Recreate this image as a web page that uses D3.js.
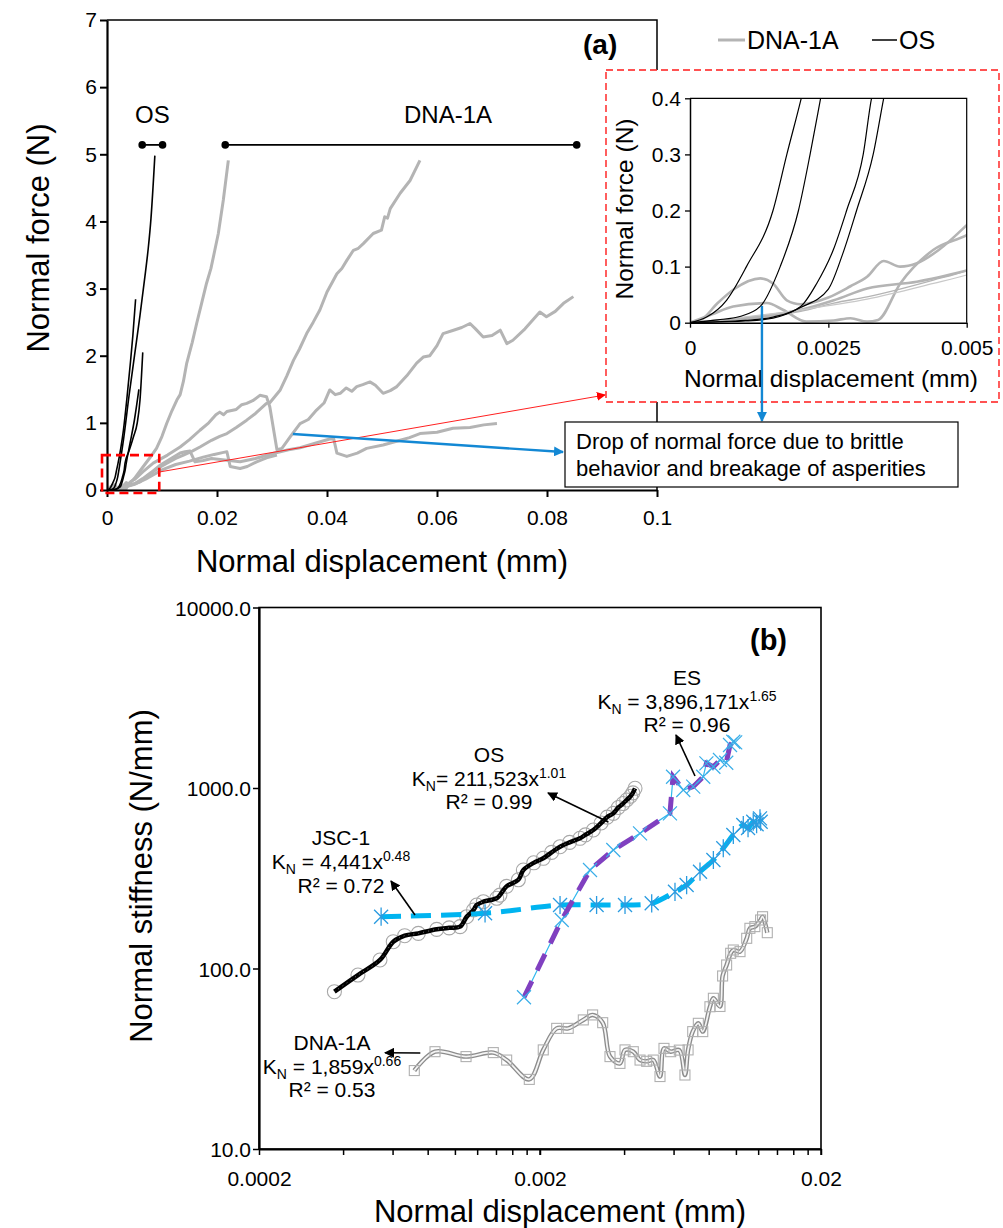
<!DOCTYPE html>
<html><head><meta charset="utf-8">
<script src="https://cdn.jsdelivr.net/npm/d3@7"></script>
<style>
body{margin:0;background:#fff}
svg{display:block}
text{font-family:"Liberation Sans",Arial,sans-serif;fill:#000}
</style>
</head><body>
<svg id="c" width="1003" height="1228"></svg>
<script>
// ---------------- DATA: panel (a) normal force vs displacement ----------------
const osCurve1 = [[0,0],[0.0003,0.01],[0.00066,0.04],[0.00102,0.1],[0.0015,0.2],[0.00175,0.3],[0.00201,0.4],[0.0025,0.62],[0.003,0.9],[0.0036,1.35],[0.0042,1.85],[0.0047,2.3],[0.0052,2.84]];
const osCurve2 = [[0,0],[0.0005,0.005],[0.0009,0.011],[0.00127,0.029],[0.00163,0.1],[0.00196,0.2],[0.00217,0.3],[0.00236,0.4],[0.003,0.75],[0.004,1.4],[0.005,2.0],[0.006,2.6],[0.007,3.25],[0.0075,3.6],[0.008,4.05],[0.0087,4.98]];
const osCurve3 = [[0,0],[0.001,0.004],[0.0015,0.01],[0.002,0.029],[0.00229,0.07],[0.00259,0.13],[0.00283,0.2],[0.00313,0.3],[0.00328,0.4],[0.004,0.58],[0.0048,0.79],[0.0055,1.0],[0.006,1.34],[0.0065,2.05]];
const osCurve4 = [[0,0],[0.001,0.003],[0.0015,0.008],[0.002,0.027],[0.0025,0.06],[0.00275,0.12],[0.00301,0.2],[0.00331,0.3],[0.0035,0.4],[0.0042,0.7],[0.005,1.05],[0.0058,1.5]];

const dnaCurve1 = [[0,0],[0.0002,0.005],[0.0005,0.035],[0.0008,0.06],[0.00127,0.079],[0.0015,0.07],[0.00175,0.04],[0.002,0.033],[0.0025,0.045],[0.0029,0.065],[0.0032,0.082],[0.0035,0.11],[0.0038,0.1],[0.0041,0.106],[0.0045,0.13],[0.005,0.174],[0.0066,0.35],[0.0078,0.48],[0.009,0.62],[0.01,0.8],[0.01085,0.99],[0.0118,1.18],[0.0127,1.34],[0.0133,1.42],[0.0139,1.62],[0.0145,1.89],[0.0155,2.2],[0.0163,2.48],[0.0172,2.78],[0.0181,3.08],[0.0189,3.3],[0.0196,3.57],[0.02024,3.82],[0.02115,4.32],[0.02206,4.91]];
const dnaCurve2 = [[0,0],[0.001,0.008],[0.002,0.023],[0.0026,0.04],[0.0032,0.061],[0.0041,0.073],[0.005,0.093],[0.006,0.12],[0.0075,0.22],[0.0092,0.32],[0.0109,0.4],[0.0125,0.47],[0.0139,0.52],[0.0155,0.58],[0.0169,0.64],[0.019,0.74],[0.0205,0.8],[0.0218,0.84],[0.0235,0.93],[0.0254,1.04],[0.027,1.14],[0.029,1.29],[0.0296,1.3],[0.0315,1.49],[0.0327,1.7],[0.0339,1.93],[0.035,2.1],[0.0363,2.33],[0.0375,2.5],[0.0387,2.68],[0.04,2.95],[0.0418,3.22],[0.0427,3.3],[0.0436,3.42],[0.0448,3.57],[0.0457,3.6],[0.0466,3.67],[0.0484,3.82],[0.0499,3.87],[0.0505,4.07],[0.051,4.05],[0.0515,4.19],[0.0533,4.42],[0.0551,4.61],[0.0569,4.91]];
const dnaCurve3 = [[0,0],[0.0004,0.015],[0.00078,0.029],[0.00139,0.035],[0.00168,0.023],[0.0021,0.002],[0.0026,0.004],[0.0029,0.008],[0.0032,0.002],[0.0034,0.005],[0.0038,0.07],[0.0044,0.13],[0.005,0.156],[0.0065,0.27],[0.0084,0.4],[0.011,0.52],[0.0133,0.64],[0.015,0.75],[0.0169,0.89],[0.0185,1.0],[0.0198,1.12],[0.0205,1.16],[0.0212,1.12],[0.0218,1.17],[0.0235,1.2],[0.0245,1.27],[0.0254,1.29],[0.0265,1.33],[0.0278,1.41],[0.029,1.39],[0.0296,1.24],[0.0309,0.6],[0.0318,0.62],[0.0333,0.79],[0.0351,0.99],[0.0366,1.05],[0.0381,1.19],[0.0395,1.3],[0.0405,1.49],[0.0415,1.42],[0.0424,1.44],[0.0435,1.52],[0.0445,1.47],[0.0454,1.54],[0.0465,1.57],[0.0478,1.61],[0.0488,1.56],[0.0502,1.44],[0.0515,1.48],[0.0527,1.54],[0.0545,1.7],[0.0563,1.89],[0.0575,1.98],[0.0587,2.0],[0.06,2.15],[0.0611,2.33],[0.063,2.38],[0.0645,2.42],[0.066,2.48],[0.067,2.4],[0.0684,2.28],[0.07,2.3],[0.0715,2.38],[0.0727,2.18],[0.0738,2.23],[0.076,2.4],[0.0787,2.65],[0.0799,2.58],[0.0815,2.66],[0.083,2.78],[0.0848,2.88]];
const dnaCurve4 = [[0,0],[0.001,0.006],[0.002,0.02],[0.0026,0.035],[0.0032,0.046],[0.0044,0.076],[0.005,0.093],[0.0065,0.17],[0.008,0.26],[0.0095,0.36],[0.0115,0.46],[0.0133,0.55],[0.0142,0.57],[0.0151,0.58],[0.016,0.42],[0.0175,0.44],[0.019,0.47],[0.021,0.45],[0.0242,0.42],[0.027,0.47],[0.03,0.54],[0.033,0.6],[0.0351,0.63],[0.038,0.7],[0.0405,0.76],[0.0412,0.77],[0.0418,0.55],[0.0436,0.5],[0.0455,0.55],[0.0472,0.62],[0.0502,0.67],[0.0533,0.74],[0.055,0.78],[0.0569,0.84],[0.06,0.86],[0.0629,0.92],[0.066,0.93],[0.0685,0.97],[0.0709,0.99]];
const dnaCurve5 = [[0,0],[0.002,0.023],[0.0032,0.042],[0.0044,0.07],[0.005,0.085],[0.007,0.16],[0.01,0.3],[0.0125,0.38],[0.015,0.43],[0.0175,0.49],[0.0195,0.53],[0.0212,0.56],[0.0218,0.57],[0.0224,0.35],[0.0242,0.32],[0.0255,0.35],[0.0272,0.42],[0.029,0.48],[0.0309,0.52]];

const rangeOS = [0.0064, 0.0101];
const rangeDNA = [0.0215, 0.0854];
const rangeLevel = 5.14;

const aXTicks = [0, 0.02, 0.04, 0.06, 0.08, 0.1];
const aXLabels = ["0", "0.02", "0.04", "0.06", "0.08", "0.1"];
const aYTicks = [0, 1, 2, 3, 4, 5, 6, 7];
const insetXTicks = [0, 0.0025, 0.005];
const insetXLabels = ["0", "0.0025", "0.005"];
const insetYTicks = [0, 0.1, 0.2, 0.3, 0.4];
const insetYLabels = ["0", "0.1", "0.2", "0.3", "0.4"];

// ---------------- DATA: panel (b) normal stiffness vs displacement ----------------
const stiffOS = [[0.000371,74.4],[0.00045,92],[0.000539,111.5],[0.000601,140.8],[0.00066,152],[0.000738,156.6],[0.000858,164.8],[0.00095,168],[0.001039,170.5],[0.001097,193.6],[0.00116,211],[0.001191,224.8],[0.001257,234.5],[0.001403,244.9],[0.00144,255],[0.00152,285],[0.001675,310],[0.001745,351.3],[0.0019,385],[0.002054,407.8],[0.0022,440],[0.002357,472.9],[0.00255,500],[0.002775,526.3],[0.0029,550],[0.003096,585],[0.0033,640],[0.00347,690],[0.003647,723.8],[0.0038,780],[0.00395,820],[0.004069,858],[0.0042,900],[0.00428,940],[0.004357,996]];
const stiffJSC = [[0.000544,193.6],[0.001275,202.2],[0.002357,224.8],[0.00318,224.8],[0.004014,224.8],[0.004995,229.7],[0.006045,266],[0.00665,290],[0.00742,343.8],[0.00828,399],[0.00898,463.6],[0.00975,549],[0.01058,623.7],[0.0110,600],[0.01148,650.6],[0.0118,630],[0.01213,679],[0.0122,650]];
const stiffES = [[0.001754,69.3],[0.00239,185.7],[0.003013,351.3],[0.003647,453.4],[0.00454,560.9],[0.0058,723.8],[0.00595,1155],[0.00647,975],[0.00702,1017],[0.00762,1155],[0.00782,1370],[0.00828,1312],[0.00874,1429],[0.0092,1380],[0.00949,1730],[0.00975,1805],[0.0099,1790]];
const stiffDNA = [[0.000714,27.2],[0.000846,34.6],[0.001091,32.5],[0.001364,34.2],[0.001522,31.1],[0.001832,24.3],[0.002054,35.4],[0.002293,46.6],[0.00252,46.6],[0.002852,51.9],[0.003078,55.3],[0.003343,50.1],[0.003549,32.5],[0.003851,29.8],[0.004014,35.4],[0.004296,34.6],[0.00454,31.1],[0.004793,30.6],[0.00506,31.1],[0.005347,25.2],[0.005524,36.1],[0.005836,34.6],[0.006263,35.3],[0.00656,25.7],[0.00673,35.4],[0.00699,44.7],[0.00732,49.7],[0.00759,44.7],[0.00805,61.4],[0.00828,68.4],[0.00874,61.6],[0.00893,90.9],[0.00923,104.6],[0.00954,121.4],[0.00975,126.6],[0.0103,124],[0.01088,147],[0.01117,167],[0.01163,170.6],[0.01219,185.7],[0.01239,193.6],[0.01288,157.9]];

const bXTicks = [0.0002, 0.002, 0.02];
const bXLabels = ["0.0002", "0.002", "0.02"];
const bYTicks = [10, 100, 1000, 10000];

// ---------------- DRAWING ----------------
const svg = d3.select("#c");
const FONT = '"Liberation Sans",Arial,sans-serif';
const defs = svg.append("defs");
function arrowMarker(id, color, size) {
  defs.append("marker").attr("id", id).attr("viewBox", "0 0 10 10")
    .attr("refX", 9).attr("refY", 5).attr("markerWidth", size).attr("markerHeight", size)
    .attr("markerUnits", "userSpaceOnUse").attr("orient", "auto")
    .append("path").attr("d", "M0,0L10,5L0,10z").attr("fill", color);
}
arrowMarker("arB", "#1388d4", 10);
arrowMarker("arR", "#ff0000", 9);
arrowMarker("arK", "#000", 10);

// ===== Panel (a) =====
const xA = d3.scaleLinear().domain([0, 0.1]).range([107, 657]);
const yA = d3.scaleLinear().domain([0, 7]).range([490, 20]);
defs.append("clipPath").attr("id", "clipA").append("rect")
  .attr("x", 107).attr("y", 18).attr("width", 551).attr("height", 473);
const lineA = d3.line().x(d => xA(d[0])).y(d => yA(d[1]));
const gA = svg.append("g");
const curvesA = gA.append("g").attr("clip-path", "url(#clipA)");
[dnaCurve1, dnaCurve2, dnaCurve3, dnaCurve4, dnaCurve5].forEach(c => {
  curvesA.append("path").attr("d", lineA(c)).attr("fill", "none")
    .attr("stroke", "#b4b4b4").attr("stroke-width", 3).attr("stroke-linejoin", "round");
});
[osCurve1, osCurve2, osCurve3, osCurve4].forEach(c => {
  curvesA.append("path").attr("d", d3.line().x(d => xA(d[0])).y(d => yA(d[1])).curve(d3.curveMonotoneX)(c))
    .attr("fill", "none").attr("stroke", "#000").attr("stroke-width", 1.6);
});
gA.append("path").attr("d", `M${xA(0)},${yA(7)}H${xA(0.1)}V${yA(0)}`).attr("fill", "none").attr("stroke", "#000").attr("stroke-width", 1.5);
const axAy = gA.append("g").attr("transform", `translate(${xA(0)},0)`)
  .call(d3.axisLeft(yA).tickValues(aYTicks).tickSize(7).tickSizeOuter(0).tickFormat(d3.format("d")));
const axAx = gA.append("g").attr("transform", `translate(0,${yA(0)})`)
  .call(d3.axisBottom(xA).tickValues(aXTicks).tickSize(7).tickSizeOuter(0).tickFormat((d, i) => aXLabels[i]));
[axAy, axAx].forEach(ax => {
  ax.select(".domain").attr("stroke-width", 2.2);
  ax.selectAll(".tick line").attr("stroke-width", 2);
  ax.selectAll(".tick text").attr("font-size", 21).attr("font-family", FONT).attr("fill", "#000");
});
axAy.selectAll(".tick text").attr("x", -10);
axAx.selectAll(".tick text").attr("y", 20);
gA.append("text").attr("x", 382).attr("y", 572).attr("text-anchor", "middle").attr("font-size", 31).text("Normal displacement (mm)");
gA.append("text").attr("transform", "translate(49,238) rotate(-90)").attr("text-anchor", "middle").attr("font-size", 31).text("Normal force (N)");

function bracket(r, label, lx) {
  gA.append("line").attr("x1", xA(r[0])).attr("x2", xA(r[1])).attr("y1", yA(rangeLevel)).attr("y2", yA(rangeLevel))
    .attr("stroke", "#000").attr("stroke-width", 1.8);
  r.forEach(v => gA.append("circle").attr("cx", xA(v)).attr("cy", yA(rangeLevel)).attr("r", 3.8).attr("fill", "#000"));
  gA.append("text").attr("x", lx).attr("y", 123).attr("text-anchor", "middle").attr("font-size", 24).text(label);
}
bracket(rangeOS, "OS", xA((rangeOS[0] + rangeOS[1]) / 2));
bracket(rangeDNA, "DNA-1A", 448);

gA.append("rect").attr("x", xA(0) - 5).attr("y", yA(0.52)).attr("width", xA(0.0095) - xA(0) + 5).attr("height", yA(0) - yA(0.52) + 3)
  .attr("fill", "none").attr("stroke", "#ff0000").attr("stroke-width", 2.6).attr("stroke-dasharray", "9,5");
gA.append("line").attr("x1", xA(0.0095)).attr("y1", 472).attr("x2", 605).attr("y2", 395)
  .attr("stroke", "#ff2020").attr("stroke-width", 1).attr("marker-end", "url(#arR)");
gA.append("line").attr("x1", xA(0.0338)).attr("y1", yA(0.833)).attr("x2", 563).attr("y2", 452)
  .attr("stroke", "#1388d4").attr("stroke-width", 2.4).attr("marker-end", "url(#arB)");

// ===== Inset =====
const gI = svg.append("g");
gI.append("rect").attr("x", 606).attr("y", 70).attr("width", 393).attr("height", 332)
  .attr("fill", "#fff").attr("stroke", "#ff1a1a").attr("stroke-width", 1.4).attr("stroke-dasharray", "7,4");
const xI = d3.scaleLinear().domain([0, 0.005]).range([690, 966.7]);
const yI = d3.scaleLinear().domain([0, 0.4]).range([322.7, 98.3]);
defs.append("clipPath").attr("id", "clipI").append("rect")
  .attr("x", 690).attr("y", 98.3).attr("width", 276.7).attr("height", 224.4);
const lineI = d3.line().x(d => xI(d[0])).y(d => yI(d[1])).curve(d3.curveMonotoneX);
const cI = gI.append("g").attr("clip-path", "url(#clipI)");
[dnaCurve1, dnaCurve2, dnaCurve3, dnaCurve4].forEach((c, i) => {
  cI.append("path").attr("d", lineI(c)).attr("fill", "none").attr("stroke", "#b4b4b4").attr("stroke-width", i === 3 ? 1.3 : 2.6);
});
cI.append("path").attr("d", lineI(dnaCurve5)).attr("fill", "none").attr("stroke", "#c8c8c8").attr("stroke-width", 1.2);
[osCurve1, osCurve2, osCurve3, osCurve4].forEach(c => {
  cI.append("path").attr("d", lineI(c)).attr("fill", "none").attr("stroke", "#000").attr("stroke-width", 1.2);
});
gI.append("path").attr("d", `M${xI(0)},${yI(0.4)}H${xI(0.005)}V${yI(0)}`).attr("fill", "none").attr("stroke", "#000").attr("stroke-width", 1.2);
const axIy = gI.append("g").attr("transform", `translate(${xI(0)},0)`)
  .call(d3.axisLeft(yI).tickValues(insetYTicks).tickSize(5).tickSizeOuter(0).tickFormat((d, i) => insetYLabels[i]));
const axIx = gI.append("g").attr("transform", `translate(0,${yI(0)})`)
  .call(d3.axisBottom(xI).tickValues(insetXTicks).tickSize(5).tickSizeOuter(0).tickFormat((d, i) => insetXLabels[i]));
[axIy, axIx].forEach(ax => {
  ax.select(".domain").attr("stroke-width", 1.5);
  ax.selectAll(".tick line").attr("stroke-width", 1.3);
  ax.selectAll(".tick text").attr("font-size", 21).attr("font-family", FONT).attr("fill", "#000");
});
axIy.selectAll(".tick text").attr("x", -9);
axIx.selectAll(".tick text").attr("y", 17);
gI.append("text").attr("x", 831).attr("y", 387).attr("text-anchor", "middle").attr("font-size", 24.5).text("Normal displacement (mm)");
gI.append("text").attr("transform", "translate(633,209) rotate(-90)").attr("text-anchor", "middle").attr("font-size", 24.5).text("Normal force (N)");
gI.append("line").attr("x1", xI(0.0013)).attr("y1", yI(0.03)).attr("x2", xI(0.0013)).attr("y2", 421)
  .attr("stroke", "#1388d4").attr("stroke-width", 2.4).attr("marker-end", "url(#arB)");

const gC = svg.append("g");
gC.append("rect").attr("x", 565).attr("y", 422).attr("width", 393).attr("height", 65)
  .attr("fill", "#fff").attr("stroke", "#000").attr("stroke-width", 1.2);
gC.append("text").attr("x", 576).attr("y", 449).attr("font-size", 22).text("Drop of normal force due to brittle");
gC.append("text").attr("x", 576).attr("y", 476).attr("font-size", 22).text("behavior and breakage of asperities");

const gL = svg.append("g");
gL.append("line").attr("x1", 718).attr("x2", 745).attr("y1", 40).attr("y2", 40).attr("stroke", "#b4b4b4").attr("stroke-width", 3);
gL.append("text").attr("x", 747).attr("y", 49).attr("font-size", 25).text("DNA-1A");
gL.append("line").attr("x1", 872).attr("x2", 897).attr("y1", 40).attr("y2", 40).attr("stroke", "#000").attr("stroke-width", 1.5);
gL.append("text").attr("x", 899).attr("y", 49).attr("font-size", 25).text("OS");
svg.append("text").attr("x", 583).attr("y", 54).attr("font-size", 28).attr("font-weight", "bold").text("(a)");

// ===== Panel (b) =====
const xB = d3.scaleLog().domain([0.0002, 0.02]).range([259, 821]);
const yB = d3.scaleLog().domain([10, 10000]).range([1149, 607.5]);
const gB = svg.append("g");
gB.append("rect").attr("x", 259).attr("y", 607.5).attr("width", 562).attr("height", 541.5)
  .attr("fill", "none").attr("stroke", "#000").attr("stroke-width", 1.6);

const bXMinor = [];
[0.0002, 0.002].forEach(dec => { for (let k = 2; k <= 10; k++) bXMinor.push(dec * k); });
gB.selectAll(".xminor").data(bXMinor).enter().append("line")
  .attr("x1", d => xB(d)).attr("x2", d => xB(d)).attr("y1", 1149).attr("y2", 1155)
  .attr("stroke", "#000").attr("stroke-width", 1.5);
const axBx = gB.append("g").attr("transform", "translate(0,1149)")
  .call(d3.axisBottom(xB).tickValues(bXTicks).tickSize(6).tickSizeOuter(0).tickFormat((d, i) => bXLabels[i]));
const axBy = gB.append("g").attr("transform", "translate(259,0)")
  .call(d3.axisLeft(yB).tickValues(bYTicks).tickSize(6).tickSizeOuter(0).tickFormat(d3.format(".1f")));
[axBx, axBy].forEach(ax => {
  ax.select(".domain").attr("stroke-width", 2.2);
  ax.selectAll(".tick line").attr("stroke-width", 1.5);
  ax.selectAll(".tick text").attr("font-size", 21).attr("font-family", FONT).attr("fill", "#000");
});
axBx.selectAll(".tick text").attr("y", 22);
axBy.selectAll(".tick text").attr("x", -8).attr("dy", "0.36em");
gB.append("text").attr("x", 560).attr("y", 1222).attr("text-anchor", "middle").attr("font-size", 31).text("Normal displacement (mm)");
gB.append("text").attr("transform", "translate(152,876) rotate(-90)").attr("text-anchor", "middle").attr("font-size", 31).text("Normal stiffness (N/mm)");

const lineB = d3.line().x(d => xB(d[0])).y(d => yB(d[1]));
gB.append("path").attr("d", lineB.curve(d3.curveCatmullRom)(stiffDNA)).attr("fill", "none").attr("stroke", "#8c8c8c").attr("stroke-width", 4.5);
gB.append("path").attr("d", lineB.curve(d3.curveCatmullRom)(stiffDNA)).attr("fill", "none").attr("stroke", "#f4f4f4").attr("stroke-width", 1.8);
gB.selectAll(".sq").data(stiffDNA).enter().append("rect")
  .attr("x", d => xB(d[0]) - 5).attr("y", d => yB(d[1]) - 5).attr("width", 10).attr("height", 10)
  .attr("fill", "none").attr("stroke", "#b0b0b0").attr("stroke-width", 1.1);
gB.selectAll(".circ").data(stiffOS).enter().append("circle")
  .attr("cx", d => xB(d[0])).attr("cy", d => yB(d[1])).attr("r", 7)
  .attr("fill", "none").attr("stroke", "#a8a8a8").attr("stroke-width", 1.1);
gB.append("path").attr("d", lineB.curve(d3.curveCatmullRom)(stiffOS)).attr("fill", "none").attr("stroke", "#000").attr("stroke-width", 4.5);
gB.append("path").attr("d", lineB.curve(d3.curveCatmullRom)(stiffOS)).attr("fill", "none").attr("stroke", "#777").attr("stroke-width", 1).attr("stroke-dasharray", "1,4");
gB.append("path").attr("d", lineB.curve(d3.curveCatmullRom)(stiffJSC)).attr("fill", "none").attr("stroke", "#00b4f0").attr("stroke-width", 5).attr("stroke-dasharray", "20,10");
const ast = s => `M${-s},${-s}L${s},${s}M${-s},${s}L${s},${-s}M0,${-s * 1.3}L0,${s * 1.3}`;
gB.selectAll(".ast").data(stiffJSC).enter().append("path")
  .attr("transform", d => `translate(${xB(d[0])},${yB(d[1])})`).attr("d", ast(7))
  .attr("fill", "none").attr("stroke", "#2a9be0").attr("stroke-width", 1.3);
gB.append("path").attr("d", lineB.curve(d3.curveLinear)(stiffES)).attr("fill", "none").attr("stroke", "#30b8ee").attr("stroke-width", 1.2);
gB.append("path").attr("d", lineB.curve(d3.curveLinear)(stiffES)).attr("fill", "none").attr("stroke", "#8040c0").attr("stroke-width", 5).attr("stroke-dasharray", "18,12");
const cross = s => `M${-s},${-s}L${s},${s}M${-s},${s}L${s},${-s}`;
gB.selectAll(".crs").data(stiffES).enter().append("path")
  .attr("transform", d => `translate(${xB(d[0])},${yB(d[1])})`).attr("d", cross(7))
  .attr("fill", "none").attr("stroke", "#3aaee8").attr("stroke-width", 1.2);

function eqLabel(cx, y1, name, coef, expo, r2, gap) {
  const g = gB.append("g");
  g.append("text").attr("x", cx).attr("y", y1).attr("text-anchor", "middle").attr("font-size", 21).text(name);
  const t = g.append("text").attr("x", cx).attr("y", y1 + gap).attr("text-anchor", "middle").attr("font-size", 21);
  t.append("tspan").text("K");
  t.append("tspan").attr("font-size", 14).attr("dy", 5).text("N");
  t.append("tspan").attr("dy", -5).text(coef);
  t.append("tspan").attr("font-size", 14).attr("dy", -8).text(expo);
  g.append("text").attr("x", cx).attr("y", y1 + 2 * gap).attr("text-anchor", "middle").attr("font-size", 21).text(r2);
}
eqLabel(687, 685, "ES", " = 3,896,171x", "1.65", "R² = 0.96", 23.5);
eqLabel(489, 762, "OS", "= 211,523x", "1.01", "R² = 0.99", 23.5);
eqLabel(341, 845, "JSC-1", " = 4,441x", "0.48", "R² = 0.72", 24);
eqLabel(332, 1050, "DNA-1A", " = 1,859x", "0.66", "R² = 0.53", 23.5);
function arrow(x1, y1, x2, y2) {
  gB.append("line").attr("x1", x1).attr("y1", y1).attr("x2", x2).attr("y2", y2)
    .attr("stroke", "#000").attr("stroke-width", 1.6).attr("marker-end", "url(#arK)");
}
arrow(695, 776, 676, 735);
arrow(xB(0.0035), yB(700) + 6, 548, 793);
arrow(415, 915, 391, 881);
arrow(xB(0.00075), yB(34), 385, 1052.7);
svg.append("text").attr("x", 750).attr("y", 650).attr("font-size", 29).attr("font-weight", "bold").text("(b)");
</script>
</body></html>
